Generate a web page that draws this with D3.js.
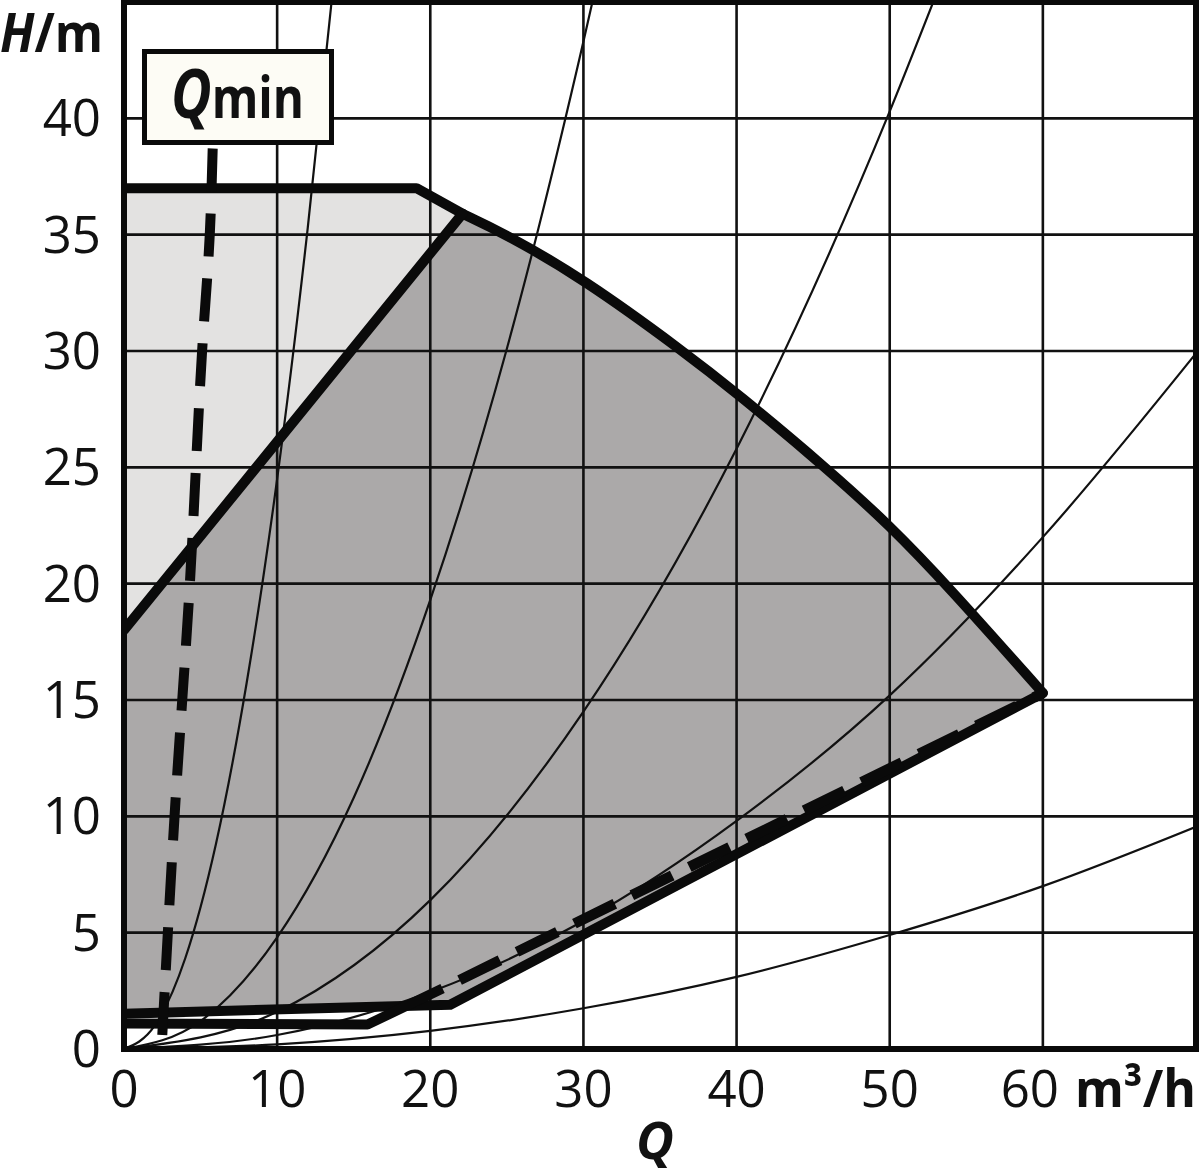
<!DOCTYPE html>
<html><head><meta charset="utf-8">
<script src="https://cdn.jsdelivr.net/npm/d3@7"></script>
<style>
html,body{margin:0;padding:0;background:#fff;}
svg{display:block;}
text{font-family:"Open Sans",sans-serif;fill:#111;}
</style></head>
<body>
<svg id="c" width="1200" height="1175"></svg>
<script>
// ---- data ----
const xTicks = [0,10,20,30,40,50,60];
const yTicks = [0,5,10,15,20,25,30,35,40];
const xGrid = [10,20,30,40,50,60];
const yGrid = [5,10,15,20,25,30,35,40];

// upper flat limit (max head) and bend
const topQ = [0,19.1,22.1];
const topH = [37,37,35.9];
// max speed curve
const maxQ = [22.1,25,30,36.5,40,46,50,53.8,60];
const maxH = [35.9,35.0,33.1,30.0,28.2,24.9,22.5,19.9,15.3];
// diagonal limit between light and dark field
const diagQ = [0,22.1];
const diagH = [18,35.9];
// lower limit (solid)
const minQ = [0,21.3,60];
const minH = [1.52,1.9,15.3];
// lower limit 2 (solid part, then dashed)
const low2Q = [0,15.9,20.8];
const low2H = [1.1,1.05,2.6];
const low2dQ = [20.8,60];
const low2dH = [2.6,15.3];
// Qmin line
const qminQ = [2.5,3.3,4.3,5.1,5.6,5.8];
const qminH = [0.6,10,20,30,35,38.9];
// system curves
const sys1Q = [0,2,4,6,8,10,12,13.6];
const sys1H = [0,1,3.9,8.8,15.7,24.5,35.3,45.3];
const sys2Q = [0,5,10,15,20,25,30,31];
const sys2H = [0,1.2,4.8,10.8,19.3,30.1,43.3,46.2];
const sys3Q = [0,10,20,30,40,50,53.2];
const sys3H = [0,1.6,6.4,14.5,25.8,40.3,45.6];
const sys4Q = [0,10,20,30,40,50,60,70];
const sys4H = [0,0.6,2.45,5.5,9.8,15.2,22,29.9];
const sys5Q = [0,10,20,30,40,50,60,70];
const sys5H = [0,0.2,0.78,1.75,3.1,4.9,7.0,9.55];

// ---- drawing ----
const svg = d3.select("#c");
const x = d3.scaleLinear().domain([0,70]).range([124,1196]);
const y = d3.scaleLinear().domain([0,45]).range([1049,2]);
const zip = (a,b)=>a.map((v,i)=>[v,b[i]]);
const lin = d3.line().x(d=>x(d[0])).y(d=>y(d[1]));
const mono = d3.line().x(d=>x(d[0])).y(d=>y(d[1])).curve(d3.curveMonotoneX);
const smooth = d3.line().x(d=>x(d[0])).y(d=>y(d[1])).curve(d3.curveBasis);
const monoY = d3.line().x(d=>x(d[0])).y(d=>y(d[1])).curve(d3.curveMonotoneY);

svg.append("defs").append("clipPath").attr("id","plot")
  .append("rect").attr("x",x(0)).attr("y",y(45)).attr("width",x(70)-x(0)).attr("height",y(0)-y(45));

const plot = svg.append("g").attr("clip-path","url(#plot)");

// light field
const lightPts = [[diagQ[0],diagH[0]], [diagQ[1],diagH[1]], [topQ[1],topH[1]], [topQ[0],topH[0]]];
plot.append("path").attr("d", lin(lightPts)+"Z").attr("fill","#e3e2e1");

// dark field
const curvePath = smooth(zip(maxQ,maxH)).replace(/^M/,"L");
const minPts = zip(minQ,minH).slice().reverse();
const darkD = lin(zip(diagQ,diagH)) + curvePath + lin(minPts).replace(/^M/,"L") + "Z";
plot.append("path").attr("d", darkD).attr("fill","#aba9a9");

// grid
plot.selectAll(".vg").data(xGrid).enter().append("line")
  .attr("x1",d=>x(d)).attr("x2",d=>x(d)).attr("y1",y(0)).attr("y2",y(45))
  .attr("stroke","#111").attr("stroke-width",2.6);
plot.selectAll(".hg").data(yGrid).enter().append("line")
  .attr("y1",d=>y(d)).attr("y2",d=>y(d)).attr("x1",x(0)).attr("x2",x(70))
  .attr("stroke","#111").attr("stroke-width",2.6);

// system curves
[[sys1Q,sys1H],[sys2Q,sys2H],[sys3Q,sys3H],[sys4Q,sys4H],[sys5Q,sys5H]].forEach(([q,h])=>{
  plot.append("path").attr("d", mono(zip(q,h))).attr("fill","none")
    .attr("stroke","#111").attr("stroke-width",2.2);
});

// thick limit lines
const thick = (d)=> plot.append("path").attr("d", d).attr("fill","none").attr("stroke","#0a0a0a")
    .attr("stroke-width",10).attr("stroke-linejoin","round").attr("stroke-linecap","round");
thick(lin(zip(topQ,topH)));
thick(smooth(zip(maxQ,maxH)));
thick(lin(zip(diagQ,diagH)));
thick(lin(zip(minQ,minH)));
thick(lin(zip(low2Q,low2H))).attr("stroke-linecap","butt");
plot.append("path").attr("d", lin(zip(low2dQ,low2dH))).attr("fill","none")
  .attr("stroke","#0a0a0a").attr("stroke-width",10.5)
  .attr("stroke-dasharray","45 19").attr("stroke-dashoffset",45);

// Qmin dashed line (drawn from bottom)
plot.append("path").attr("d", monoY(zip(qminQ,qminH))).attr("fill","none")
  .attr("stroke","#0a0a0a").attr("stroke-width",10).attr("stroke-dasharray","43 22");

// frame
svg.append("rect").attr("x",x(0)).attr("y",y(45)).attr("width",x(70)-x(0)).attr("height",y(0)-y(45))
  .attr("fill","none").attr("stroke","#0a0a0a").attr("stroke-width",6);

// Qmin label box
svg.append("rect").attr("x",144.5).attr("y",51.5).attr("width",187).attr("height",91)
  .attr("fill","#fdfcf5").attr("stroke","#0a0a0a").attr("stroke-width",5);
const ql = svg.append("text").attr("x",171).attr("y",118).attr("font-weight",700)
  .attr("textLength",133).attr("lengthAdjust","spacingAndGlyphs");
ql.append("tspan").attr("font-style","italic").attr("font-size",68).text("Q");
ql.append("tspan").attr("font-size",58).text("min");

// tick labels
svg.selectAll(".xt").data(xTicks).enter().append("text")
  .attr("x",d=>x(d)+(d===60?-13:0)).attr("y",1107).attr("text-anchor","middle")
  .attr("font-size",51).text(d=>d);
svg.selectAll(".yt").data(yTicks).enter().append("text")
  .attr("x",101).attr("y",d=>y(d)+18).attr("text-anchor","end")
  .attr("font-size",51).text(d=>d);

// axis titles
const ht = svg.append("text").attr("x",0).attr("y",52).attr("font-weight",700).attr("font-size",53)
  .attr("textLength",103).attr("lengthAdjust","spacingAndGlyphs");
ht.append("tspan").attr("font-style","italic").text("H");
ht.append("tspan").text("/m");
svg.append("text").attr("x",1075).attr("y",1107).attr("font-weight",700).attr("font-size",52)
  .attr("textLength",121).attr("lengthAdjust","spacingAndGlyphs").text("m³/h");
svg.append("text").attr("x",655).attr("y",1159).attr("text-anchor","middle")
  .attr("font-weight",700).attr("font-style","italic").attr("font-size",52).text("Q");
</script>
</body></html>
